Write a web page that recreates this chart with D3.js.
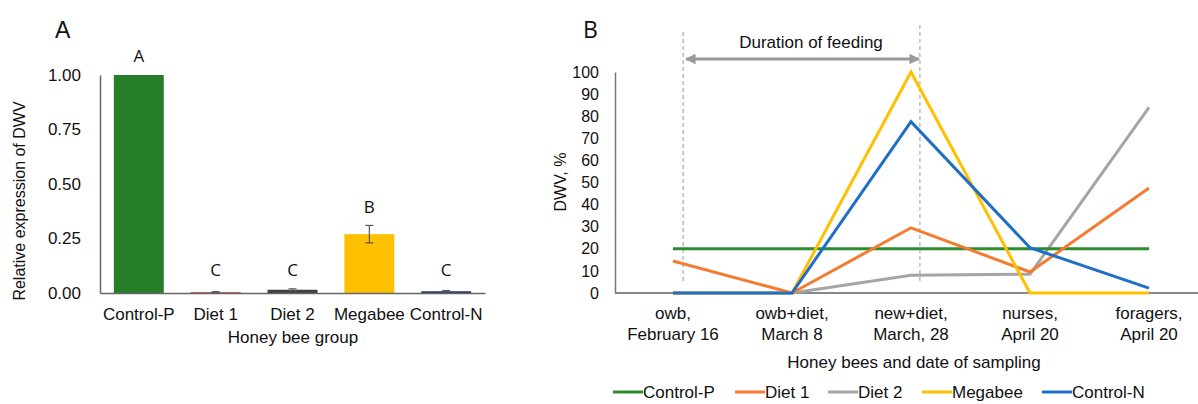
<!DOCTYPE html>
<html><head><meta charset="utf-8">
<script src="https://cdn.jsdelivr.net/npm/d3@7/dist/d3.min.js"></script>
<style>body{margin:0;background:#fff}svg{display:block}text{font-family:"Liberation Sans",Arial,sans-serif;fill:#111}</style>
</head><body><svg id="c" width="1198" height="404"></svg>
<script>
// Panel A data
const groupsA = ["Control-P","Diet 1","Diet 2","Megabee","Control-N"];
const valuesA = [1.00, 0.004, 0.015, 0.27, 0.008];
const errorsA = [0, 0.002, 0.004, 0.04, 0.003];
const lettersA = ["A","C","C","B","C"];
const colorsA = ["#267F26","#C0504D","#404040","#FFC000","#1F3864"];
const ticksA = [0, 0.25, 0.5, 0.75, 1.0];

// Panel B data
const samplesB = [["owb,","February 16"],["owb+diet,","March 8"],["new+diet,","March, 28"],["nurses,","April 20"],["foragers,","April 20"]];
const seriesNames = ["Control-P","Diet 1","Diet 2","Megabee","Control-N"];
const controlP = [20, 20, 20, 20, 20];
const diet1 = [14.5, 0, 29.5, 9.5, 47.5];
const diet2 = [0, 0, 8, 8.5, 84];
const megabee = [0, 0, 100, 0, 0];
const controlN = [0, 0, 77.5, 20.5, 2.2];
const seriesColors = ["#2E8B2E","#F47B30","#A5A5A5","#FFC000","#1F6FC6"];
const ticksB = [0,10,20,30,40,50,60,70,80,90,100];

const svg = d3.select("#c");

// ---------- Panel A ----------
const xA = d3.scaleBand().domain(groupsA).range([100, 485]).paddingInner(0.35).paddingOuter(0.18);
const yA = d3.scaleLinear().domain([0, 1]).range([293, 75]);
const gA = svg.append("g");
gA.append("text").attr("x", 55).attr("y", 38).attr("font-size", 23).text("A");
gA.selectAll("rect.bar").data(groupsA).enter().append("rect")
  .attr("x", d => xA(d)).attr("width", xA.bandwidth())
  .attr("y", (d,i) => yA(valuesA[i])).attr("height", (d,i) => Math.max(1.5, yA(0) - yA(valuesA[i])))
  .attr("fill", (d,i) => colorsA[i]);
// error bars
gA.selectAll("g.err").data(groupsA).enter().append("g").each(function(d,i){
  if (errorsA[i] <= 0) return;
  const cx = xA(d) + xA.bandwidth()/2, g = d3.select(this);
  g.append("line").attr("x1",cx).attr("x2",cx).attr("y1",yA(valuesA[i]+errorsA[i])).attr("y2",yA(valuesA[i]-errorsA[i])).attr("stroke","#555").attr("stroke-width",1.2);
  [valuesA[i]+errorsA[i], valuesA[i]-errorsA[i]].forEach(v=>g.append("line").attr("x1",cx-4).attr("x2",cx+4).attr("y1",yA(v)).attr("y2",yA(v)).attr("stroke","#555").attr("stroke-width",1.2));
});
const letterY = [62, 276, 276, 213, 276];
gA.selectAll("text.let").data(groupsA).enter().append("text")
  .attr("x", d => xA(d) + xA.bandwidth()/2)
  .attr("y", (d,i) => letterY[i])
  .attr("text-anchor","middle").attr("font-size",17).style("font-family","'Open Sans',sans-serif").attr("fill","#222").text((d,i)=>lettersA[i]);
// axes
const yAxisA = gA.append("g").attr("transform","translate(100,0)")
  .call(d3.axisLeft(yA).tickValues(ticksA).tickFormat(d3.format(".2f")).tickSize(0).tickPadding(19));
yAxisA.select(".domain").attr("stroke","#666").attr("stroke-width",1.5);
yAxisA.selectAll("text").attr("font-size",17).style("font-family","'Liberation Sans',Arial,sans-serif").attr("fill","#111");
const xAxisA = gA.append("g").attr("transform","translate(0,293)")
  .call(d3.axisBottom(xA).tickSize(0).tickPadding(15));
xAxisA.select(".domain").attr("stroke","#666").attr("stroke-width",1.5);
xAxisA.selectAll("text").attr("font-size",17).style("font-family","'Liberation Sans',Arial,sans-serif").attr("fill","#111");
gA.append("text").attr("transform","translate(25,201) rotate(-90)").attr("text-anchor","middle").attr("font-size",16).text("Relative expression of DWV");
gA.append("text").attr("x",293).attr("y",343).attr("text-anchor","middle").attr("font-size",17).text("Honey bee group");

// ---------- Panel B ----------
const labelsB = samplesB.map(s => s.join(" "));
const xB = d3.scalePoint().domain(labelsB).range([673, 1149]);
const yB = d3.scaleLinear().domain([0, 100]).range([293, 72]);
const gB = svg.append("g");
gB.append("text").attr("x", 583).attr("y", 38).attr("font-size", 23).style("font-family","'Open Sans',sans-serif").text("B");

// dashed lines marking feeding period
const stepB = xB.step();
const dashX = [xB(labelsB[0]) + stepB*0.085, xB(labelsB[2]) + stepB*0.075];
gB.selectAll("line.dash").data(dashX).enter().append("line")
  .attr("x1", d=>d).attr("x2", d=>d).attr("y1", (d,i)=> i===0?32:25).attr("y2", 284)
  .attr("stroke","#999").attr("stroke-width",1).attr("stroke-dasharray","4,3");
// arrow
const defs = svg.append("defs");
defs.append("marker").attr("id","ah").attr("viewBox","0 0 10 10").attr("refX",9).attr("refY",5)
  .attr("markerWidth",4).attr("markerHeight",3.5).attr("orient","auto-start-reverse")
  .append("path").attr("d","M0,0 L10,5 L0,10 z").attr("fill","#999");
gB.append("line").attr("x1",dashX[0]+3).attr("x2",dashX[1]-1).attr("y1",59).attr("y2",59)
  .attr("stroke","#999").attr("stroke-width",3).attr("marker-start","url(#ah)").attr("marker-end","url(#ah)");
gB.append("text").attr("x",811).attr("y",48).attr("text-anchor","middle").attr("font-size",17).text("Duration of feeding");

// axes
const yAxisB = gB.append("g").attr("transform","translate(615,0)")
  .call(d3.axisLeft(yB).tickValues(ticksB).tickSize(0).tickPadding(16));
yAxisB.select(".domain").attr("stroke","#777").attr("stroke-width",1.5);
yAxisB.selectAll("text").attr("font-size",16).attr("fill","#111");
gB.append("line").attr("x1",615).attr("x2",1198).attr("y1",yB(0)).attr("y2",yB(0)).attr("stroke","#888").attr("stroke-width",2);
gB.append("text").attr("transform","translate(566,182) rotate(-90)").attr("text-anchor","middle").attr("font-size",16).text("DWV, %");

// lines
const allSeries = [controlP, diet1, diet2, megabee, controlN];
const lineGen = d3.line().x((d,i)=>xB(labelsB[i])).y(d=>yB(d));
const drawOrder = [2, 0, 1, 3, 4];
drawOrder.forEach(k => {
  gB.append("path").datum(allSeries[k]).attr("d", lineGen)
    .attr("fill","none").attr("stroke", seriesColors[k]).attr("stroke-width",3).attr("stroke-linejoin","miter");
});

// x tick labels (two lines)
const xl = gB.selectAll("text.xl").data(samplesB).enter().append("text")
  .attr("text-anchor","middle").attr("font-size",17).attr("fill","#111");
xl.each(function(d,i){
  const t = d3.select(this);
  t.append("tspan").attr("x", xB(labelsB[i])).attr("y", 319).text(d[0]);
  t.append("tspan").attr("x", xB(labelsB[i])).attr("y", 340).text(d[1]);
});
gB.append("text").attr("x",914).attr("y",368).attr("text-anchor","middle").attr("font-size",17).text("Honey bees and date of sampling");

// legend
const legX = [613, 735, 828, 922, 1042];
const leg = gB.selectAll("g.leg").data(seriesNames).enter().append("g").attr("transform",(d,i)=>`translate(${legX[i]},392)`);
leg.append("line").attr("x1",0).attr("x2",30).attr("y1",0).attr("y2",0).attr("stroke",(d,i)=>seriesColors[i]).attr("stroke-width",3);
leg.append("text").attr("x",30).attr("y",6).attr("font-size",17).text(d=>d);
</script></body></html>
